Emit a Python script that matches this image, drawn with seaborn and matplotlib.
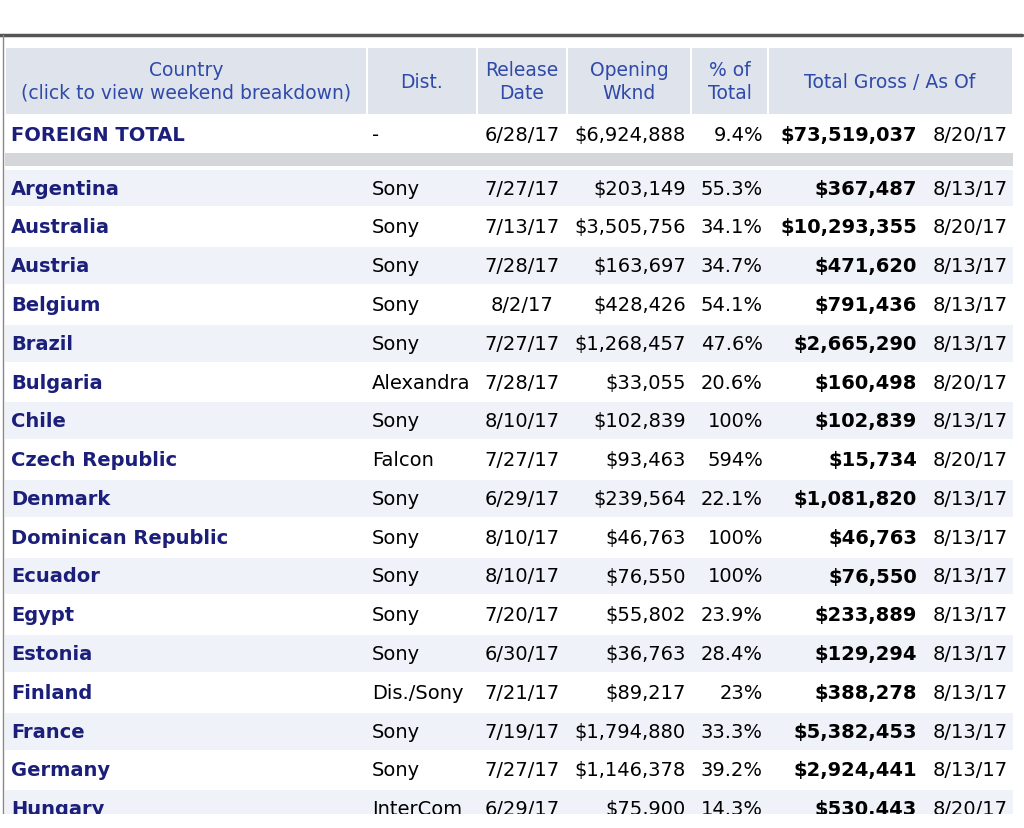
import matplotlib
matplotlib.use("Agg")
import matplotlib.pyplot as plt
import seaborn as sns
from matplotlib.patches import Rectangle

sns.set_style("white")

# ---------------------------------------------------------------------------
# table data
# ---------------------------------------------------------------------------
countries = ["Argentina", "Australia", "Austria", "Belgium", "Brazil", "Bulgaria",
             "Chile", "Czech Republic", "Denmark", "Dominican Republic", "Ecuador",
             "Egypt", "Estonia", "Finland", "France", "Germany", "Hungary"]
dist = ["Sony", "Sony", "Sony", "Sony", "Sony", "Alexandra", "Sony", "Falcon", "Sony",
        "Sony", "Sony", "Sony", "Sony", "Dis./Sony", "Sony", "Sony", "InterCom"]
release = ["7/27/17", "7/13/17", "7/28/17", "8/2/17", "7/27/17", "7/28/17", "8/10/17",
           "7/27/17", "6/29/17", "8/10/17", "8/10/17", "7/20/17", "6/30/17", "7/21/17",
           "7/19/17", "7/27/17", "6/29/17"]
opening = ["$203,149", "$3,505,756", "$163,697", "$428,426", "$1,268,457", "$33,055",
           "$102,839", "$93,463", "$239,564", "$46,763", "$76,550", "$55,802", "$36,763",
           "$89,217", "$1,794,880", "$1,146,378", "$75,900"]
pct_total = ["55.3%", "34.1%", "34.7%", "54.1%", "47.6%", "20.6%", "100%", "594%",
             "22.1%", "100%", "100%", "23.9%", "28.4%", "23%", "33.3%", "39.2%", "14.3%"]
total_gross = ["$367,487", "$10,293,355", "$471,620", "$791,436", "$2,665,290", "$160,498",
               "$102,839", "$15,734", "$1,081,820", "$46,763", "$76,550", "$233,889",
               "$129,294", "$388,278", "$5,382,453", "$2,924,441", "$530,443"]
as_of = ["8/13/17", "8/20/17", "8/13/17", "8/13/17", "8/13/17", "8/20/17", "8/13/17",
         "8/20/17", "8/13/17", "8/13/17", "8/13/17", "8/13/17", "8/13/17", "8/13/17",
         "8/13/17", "8/13/17", "8/20/17"]

foreign_total = ["FOREIGN TOTAL", "-", "6/28/17", "$6,924,888", "9.4%", "$73,519,037", "8/20/17"]

headers = [("Country\n(click to view weekend breakdown)", 186), ("Dist.", 421),
           ("Release\nDate", 522), ("Opening\nWknd", 629), ("% of\nTotal", 730),
           ("Total Gross / As Of", 890)]
col_edges = [5, 367, 477, 567, 691, 768, 1013]

NAVY = "#1b1f7a"
HEAD_BLUE = "#2f4aa8"
FS = 14
INK = "black"

fig = plt.figure(figsize=(10.24, 8.29), dpi=100)
ax = fig.add_axes([0, 0, 1, 1])
ax.set_xlim(0, 1024)
ax.set_ylim(829, 0)
ax.axis("off")

# outer border
ax.plot([0, 1022], [36, 36], color="#555555", lw=2.5)
ax.plot([3, 3], [36, 829], color="#888888", lw=1)

# header cells
for x0, x1 in zip(col_edges[:-1], col_edges[1:]):
    ax.add_patch(Rectangle((x0 + 1, 49), x1 - x0 - 2, 66, color="#dfe3ec", lw=0))
for text, xc in headers:
    ax.text(xc, 82, text, ha="center", va="center", fontsize=FS - 0.5, color=HEAD_BLUE,
            linespacing=1.25)

# foreign total row
y = 135
ax.text(11, y, foreign_total[0], ha="left", va="center", fontsize=FS, color=NAVY, weight="bold")
ax.text(376, y, foreign_total[1], ha="center", va="center", fontsize=FS, color=INK)
ax.text(522, y, foreign_total[2], ha="center", va="center", fontsize=FS, color=INK)
ax.text(686, y, foreign_total[3], ha="right", va="center", fontsize=FS, color=INK)
ax.text(763, y, foreign_total[4], ha="right", va="center", fontsize=FS, color=INK)
ax.text(917, y, foreign_total[5], ha="right", va="center", fontsize=FS, weight="bold", color=INK)
ax.text(1008, y, foreign_total[6], ha="right", va="center", fontsize=FS, color=INK)

ax.add_patch(Rectangle((5, 154), 1008, 13, color="#d4d6da", lw=0))

# country rows
ROW_H = 38.8
for i, c in enumerate(countries):
    yc = 189 + i * ROW_H
    if i % 2 == 0:
        ax.add_patch(Rectangle((5, yc - ROW_H / 2 + 1), 1008, ROW_H - 2,
                               color="#eff2f9", lw=0))
    ax.text(11, yc, c, ha="left", va="center", fontsize=FS, color=NAVY, weight="bold")
    ax.text(372, yc, dist[i], ha="left", va="center", fontsize=FS, color=INK)
    ax.text(522, yc, release[i], ha="center", va="center", fontsize=FS, color=INK)
    ax.text(686, yc, opening[i], ha="right", va="center", fontsize=FS, color=INK)
    ax.text(763, yc, pct_total[i], ha="right", va="center", fontsize=FS, color=INK)
    ax.text(917, yc, total_gross[i], ha="right", va="center", fontsize=FS, weight="bold", color=INK)
    ax.text(1008, yc, as_of[i], ha="right", va="center", fontsize=FS, color=INK)

# bottom cut-off of screenshot
ax.add_patch(Rectangle((0, 815), 1024, 14, color="white", lw=0, zorder=5))

fig.savefig("out.png", dpi=100)
